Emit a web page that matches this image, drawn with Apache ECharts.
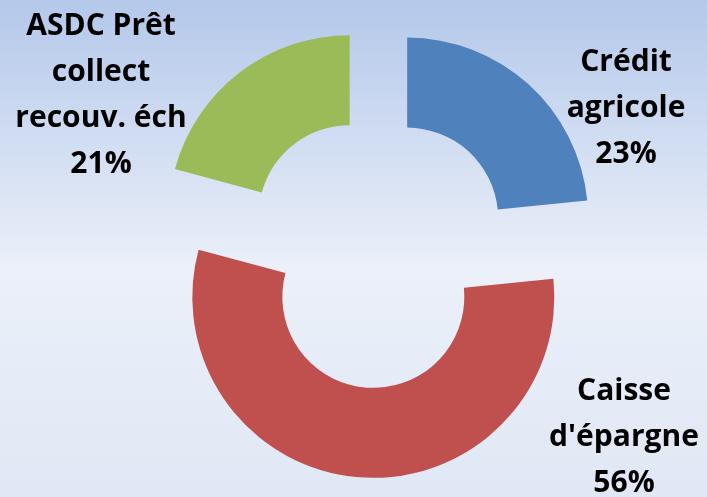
<!DOCTYPE html>
<html>
<head>
<meta charset="utf-8">
<script src="https://cdn.jsdelivr.net/npm/echarts@6/dist/echarts.min.js"></script>
<style>
  html, body { margin: 0; padding: 0; }
  #chart { width: 707px; height: 497px; }
</style>
</head>
<body>
<div id="chart"></div>
<script>
// categories and shares (%), clockwise from 12 o'clock
const categories = ['Crédit\nagricole', "Caisse\nd'épargne", 'ASDC Prêt\ncollect\nrecouv. éch'];
const shares = [23.4, 55.8, 20.8];
const colors = ['#4F81BD', '#C0504D', '#9BBB59'];

// where each label block sits (centre of text)
const labelPos = [[626, 108], [624, 437], [101, 95]];

const total = shares.reduce(function (a, b) { return a + b; }, 0);

const chart = echarts.init(document.getElementById('chart'));

chart.setOption({
    animation: false,
    backgroundColor: {
        type: 'linear', x: 0, y: 0, x2: 0, y2: 1,
        colorStops: [
            {offset: 0, color: '#b4c8ea'},
            {offset: 0.54, color: '#ebf0f9'},
            {offset: 1, color: '#e0e8f5'}
        ]
    },
    // data labels, placed like the original slide
    graphic: categories.map(function (name, i) {
        return {
            type: 'text',
            x: labelPos[i][0],
            y: labelPos[i][1],
            silent: true,
            style: {
                text: name + '\n' + Math.round(shares[i] / total * 100) + '%',
                fontFamily: 'Open Sans',
                fontWeight: 'bold',
                fontSize: 30,
                lineHeight: 46,
                fill: '#000',
                align: 'center',
                verticalAlign: 'middle'
            }
        };
    }),
    series: [
        {
            type: 'pie',
            center: [377, 252],
            radius: [91, 181],
            startAngle: 90,
            clockwise: true,
            selectedMode: 'multiple',
            selectedOffset: 45,
            emphasis: {disabled: true},
            label: {show: false},
            labelLine: {show: false},
            data: categories.map(function (name, i) {
                return {name: name, value: shares[i], selected: true, itemStyle: {color: colors[i]}};
            })
        }
    ]
});
</script>
</body>
</html>
